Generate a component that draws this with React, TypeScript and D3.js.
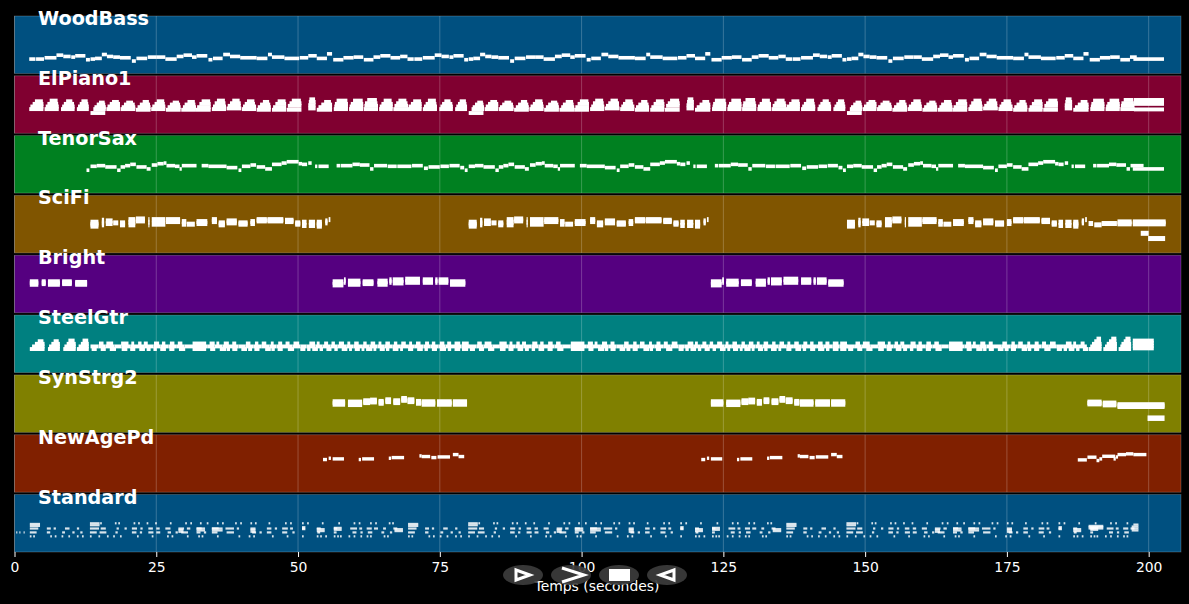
// App.tsx
import React, { useEffect, useRef } from 'react'
import * as d3 from 'd3'

// a note is [start in seconds, duration in seconds, pitch]
type Note = [number, number, number]

const TRACK_NAMES = ['WoodBass', 'ElPiano1', 'TenorSax', 'SciFi', 'Bright', 'SteelGtr', 'SynStrg2', 'NewAgePd', 'Standard']
const TRACK_COLORS = ['#005080', '#800030', '#008020', '#805500', '#550080', '#008080', '#808000', '#802000', '#005080']
const TICK_VALUES = [0, 25, 50, 75, 100, 125, 150, 175, 200]

// the piece plays the same section three times, so each phrase is read once
const PASS_OFFSETS = [0, 66.7, 133.4]

const woodBassPhrase: Note[] = [
  [2.6,1.1,42],[3.8,1.4,42],[5.3,2.1,44],[7.4,1.2,48],[8.6,1.3,46],[10,.7,45],[10.7,1.8,47],[12.6,.7,41],
  [13.4,.8,42],[14.2,1.2,43],[15.4,.9,49],[16.3,1.1,46],[17.4,1.2,45],[18.6,1.9,44],[20.7,.7,39],[21.5,1.9,43],
  [23.5,1.6,45],[25.1,1.5,45],[26.6,2,42],[28.6,1.2,46],[29.8,1.5,48],[31.3,.8,45],[32.1,1.9,47],[34.2,.7,41],
  [35,1.7,43],[36.8,1.2,49],[38,1.8,46],[39.8,2.9,44],[42.7,1.9,43],[44.7,.7,49],[45.4,2.2,45],[47.6,2.6,43],
  [50.3,1.5,44],[51.8,1.5,47],[53.3,1.8,43],[55.1,.9,50],[56.2,1.8,41],[58,1.8,44],[59.8,1.7,45],[61.6,1.7,41],
  [63.3,1.2,45],[64.5,1.8,47],[66.3,1.7,44],[68,1.3,46]
]
const woodBassOutro: Note[] = [[197.3,5.4,42]]

const pianoPhrase: Note[] = [
  [2.6,2.5,57],[2.8,2.3,61],[3.2,1.9,65],[3.6,1.4,69],[5.3,2.5,57],[5.5,2.3,61],[5.8,1.9,65],[6.2,1.4,70],
  [8.2,2.4,57],[8.4,2.2,61],[8.7,1.8,65],[9.1,1.1,69],[11,2.1,57],[11.2,1.9,61],[11.5,1.5,65],[11.8,1.1,69],
  [13.4,2.6,51],[13.9,2.2,57],[14.1,2,60],[14.5,1.5,64],[14.9,1,67],[16.2,2.4,57],[16.4,2.2,61],[16.8,1.8,65],[17.2,1.2,68],
  [18.7,2.6,57],[18.9,2.4,60],[19.3,1.9,64],[19.7,1.2,67],[21.4,2.6,56],[21.7,2.3,60],[22.1,1.8,64],[22.6,1.1,68],
  [24.1,2.5,57],[24.3,2.3,61],[24.7,1.8,65],[25.1,1.3,69],[26.7,2.6,56],[27,2.3,60],[27.4,1.8,64],[27.9,1.1,67],
  [29.4,2.6,56],[29.7,2.3,60],[30,1.9,64],[30.5,1.3,68],[32,2.6,56],[32.2,2.4,60],[32.6,2,65],[33,1.5,69],
  [34.8,2.5,57],[35,2.3,61],[35.3,1.9,66],[35.7,1.4,70],[37.4,2.6,58],[37.6,2.3,62],[38,1.9,66],[38.4,1.3,70],
  [40.1,2.5,57],[40.3,2.3,61],[40.6,1.8,65],[41,1.3,69],[42.7,2.5,56],[42.9,2.3,60],[43.3,1.8,64],[43.8,1.1,68],
  [45.4,2.5,56],[45.6,2.3,60],[46,1.9,65],[46.4,1.4,69],[48,2.6,56],[48.2,2.4,62],[48.5,2.1,66],[48.9,1.6,70],
  [51.8,1.3,58],[51.8,1.3,63],[51.9,1.2,68],[52,1,72],[53.3,2.7,56],[53.6,2.4,60],[54.1,1.9,64],[54.6,1.2,68],
  [56.3,2.5,57],[56.4,2.4,61],[56.5,2.3,65],[56.8,1.9,70],[59,2.5,57],[59.1,2.4,61],[59.3,2.2,65],[59.7,1.7,70],
  [61.6,2.5,57],[61.7,2.4,62],[61.8,2.2,66],[62.2,1.7,71],[64.3,2.4,57],[64.4,2.3,61],[64.7,2,65],[65.1,1.4,70],
  [66.8,2.6,57],[67,2.4,62],[67.3,2,66],[67.7,1.4,70]
]
const pianoOutro: Note[] = [[197.4,5.3,56.5],[197.4,5.3,65],[197.4,5.3,68.5],[197.4,5.3,71]]

const tenorPhrase: Note[] = [
  [12.7,.5,55],[13.4,1.1,61],[14.5,1.5,62],[16,2,60],[18.1,.6,55],[18.7,.8,60],[19.5,.9,62],[20.4,1,64],
  [21.5,1.8,60],[23.3,.7,57],[24.2,1,63],[25.2,1.1,65],[26.3,.5,66],[26.8,1.5,62],[28.3,.8,61],[29.1,.4,57],
  [29.5,2.6,62],[33,1.2,62],[34.2,3.2,61],[37.4,1.9,59],[39.5,.5,55],[40.1,1.5,61],[41.6,1,63],[42.7,1.5,60],
  [44.2,1.2,57],[45.4,1.7,64],[47.1,.9,66],[48,2.1,68],[50.1,.6,65],[50.7,.9,64],[51.8,.6,66],[53,.4,61],
  [53.6,1.8,61],[56.8,.6,62],[57.5,2.1,62],[59.6,1.3,64],[60.9,1.7,63],[62.7,.6,57],[63.4,2.3,62],[65.8,1.6,61],
  [67.5,2.5,61],[70.1,1.9,62],[72.2,.7,58],[73,2,60],[75.1,1.5,61],[76.7,1.8,62],[78.6,.7,59]
]
const tenorOutro: Note[] = [[197.2,5.5,57]]

const sciFiPhrase: Note[] = [
  [13.4,1.4,61],[13.4,1.4,64],[13.4,1.4,67],[15.4,.4,63],[15.4,.4,66],[15.4,.4,70],[16.1,1.2,65],[16.1,1.2,69],
  [17.4,.9,66],[18.6,.9,63],[18.6,.9,66],[20.1,1.2,63],[20.1,1.2,67],[20.1,1.2,71],[21.4,1.6,69],[21.4,1.6,72],
  [23.6,.2,63],[23.6,.2,67],[23.6,.2,71],[24.2,2.4,64],[24.2,2.4,71],[26.7,2.5,68],[26.7,2.5,71],[29.5,.8,64],[29.5,.8,68],
  [30.4,1.4,64],[32.1,1.9,65],[32.1,1.9,68],[34.8,.9,68],[34.8,.9,71],[36,1.1,63],[36,1.1,66],[37.4,1.8,66],[37.4,1.8,69],
  [39.5,1.6,64],[39.5,1.6,66],[41.6,.8,65],[41.6,.8,68],[42.7,1.8,69],[42.7,1.8,71],[44.6,2.8,69],[44.6,2.8,71],
  [47.7,1.5,68],[47.7,1.5,70],[49.5,.9,64],[49.5,.9,66],[50.7,.8,62],[50.7,.8,67],[51.9,1.1,62],[51.9,1.1,67],
  [53.3,.9,61],[53.3,.9,64],[53.3,.9,67],[54.8,.4,66],[54.8,.4,69],[55.4,.3,71]
]
const sciFiOutro: Note[] = [
  [189.4,.8,65],[190.4,1.3,63],[191.7,2.7,65],[194.5,2.5,64.5],[194.5,2.5,67.5],
  [197.2,5.8,64.5],[197.2,5.8,67.5],[198.6,1.4,50],[199.9,3,42]
]

const brightIntro: Note[] = [
  [2.7,1.5,64],[2.7,1.5,67],[4.8,.7,65],[4.8,.7,67],[5.9,2.1,64],[5.9,2.1,67],[8.4,1.7,65],[8.4,1.7,67],[10.7,2.1,64],[10.7,2.1,66]
]
const brightPhrase: Note[] = [
  [56.1,1.9,63],[56.1,1.9,67],[58.1,.3,70],[58.1,.3,67],[58.8,2.2,64],[58.8,2.2,68],[61.4,1.9,65],[61.4,1.9,67],[64,1.8,64],[64,1.8,68],
  [66.1,.4,70],[66.1,.4,67],[66.7,1.9,66],[66.7,1.9,70],[68.9,2.6,67],[68.9,2.6,71],[72,1.8,67],[72,1.8,70],[74.2,.4,67],[74.2,.4,70],
  [74.8,1.7,67],[74.8,1.7,70],[76.8,2.7,64],[76.8,2.7,67]
]

const steelIntro: Note[] = [
  [2.7,2.6,56],[3.1,2.2,60],[3.6,1.7,64],[4.1,1,68],[5.9,2.1,56],[6.1,1.9,60],[6.5,1.5,64],[6.9,.9,68],
  [8.6,2.2,56],[8.8,2,60],[9.2,1.6,64],[9.5,1.1,69],[11,2.1,56],[11.3,1.8,60],[11.7,1.4,64],[12,1,69]
]
// steel guitar rows, [start, duration]
const steelMidRow: [number, number][] = [
  [13.4,1.4],[14.8,1.2],[16,1.6],[17.6,1.3],[18.9,1.5],[20.4,1.2],[21.6,1.4],[23,1.5],[24.5,1.2],[25.7,1.5],[27.2,1.3],[28.5,1.5],
  [30,1.3],[31.3,2.8],[34.1,1.2],[35.3,1.4],[36.7,1.3],[38,1.5],[39.5,1.2],[40.7,1.5],[42.2,1.3],[43.5,1.5],[45,1.2],[46.2,1.5],
  [47.7,1.3],[49,1.4],[50.4,1.1],[51.5,1.6],[53.1,1.2],[54.3,1.4],[55.7,1.3],[57,1.5],[58.5,1.3],[59.8,1.5],[61.3,1.3],[62.6,1.4],
  [64,1.2],[65.2,1.5],[66.7,1.3],[68,1.4],[69.4,1.2],[70.6,1.5],[72.1,1.3],[73.4,1.4],[74.8,1.2],[76,1.5],[77.5,1.3],[78.8,1.4]
]
const steelTopRow: [number, number][] = [
  [14.9,.8],[16.2,1.2],[18.8,1.3],[20.6,.5],[21.8,.6],[22.8,.7],[24.6,.9],[26,.6],[27.4,.8],[28.8,.8],[31.4,2.4],[34.4,.9],[35.6,.5],
  [36.9,.9],[38.4,.7],[40.8,.8],[42.4,.6],[43.6,.8],[45.2,.5],[46.5,.7],[47.8,.7],[49.2,1],[52,1],[53.3,.5],[54.6,.7],[55.9,.6],
  [57.2,.9],[58.7,.5],[59.9,.8],[61.5,.6],[62.8,.8],[64.2,.5],[65.4,.8],[66.9,.6],[68.2,.8],[69.6,.5],[70.8,.8],
  [72.4,.7],[73.6,.6],[75,.8],[76.3,.7],[77.6,1],[78.9,1.2]
]
const steelLowRow: [number, number][] = [
  [13.6,.9],[15.2,.9],[16.8,1.1],[18.9,1],[20.4,.9],[22,1],[23.3,.7],[24.5,.6],[25.7,1],[27.3,.9],[29,1.1],[31.4,2.4],[34.5,.9],[36.2,1.1],
  [37.4,.6],[38.4,.9],[40,1],[41.2,.7],[42.3,.9],[44.2,1],[45.3,.6],[46.4,.9],[48.2,1.1],[50.4,.9],[51.6,.6],[52.5,1],[53.8,.6],[55,.9],
  [56.4,.6],[57.7,1],[59,.5],[60,.9],[61.2,.5],[62,1.1],[63.3,.5],[64.4,.9],[65.5,.6],[66.7,1],[68,.5],[69.4,.9],[71,1],[72.3,.6],[73.6,.9],
  [75,1.1],[76.4,.6],[77.6,1],[78.9,1.1]
]
const steelOutro: Note[] = [
  [189.4,2.3,56],[189.7,2,60],[190,1.7,64],[190.4,1.2,68],[190.8,.8,72],[192,2.4,56],[192.3,2.1,60],[192.6,1.8,64],[193,1.3,68],[193.4,.9,72],
  [194.7,2.2,56],[195,1.9,60],[195.2,1.7,64],[195.6,1.2,68],[195.9,.9,72],
  [197.2,3.7,57],[197.2,3.7,61],[197.2,3.7,65],[197.2,3.7,69]
]

const synthPhrase: Note[] = [
  [56.1,2.2,63.5],[56.1,2.2,66.5],[58.8,2.5,63],[58.8,2.5,66],[61.5,1.2,66],[61.5,1.2,68],[62.7,1.2,67],[62.7,1.2,69],[64.2,.9,65],[64.2,.9,67],
  [65.4,1,67.5],[65.4,1,69.5],[66.8,1.2,66],[66.8,1.2,68],[68.2,1,69.5],[68.2,1,71.5],[69.3,1.2,67.5],[69.3,1.2,69.5],[70.8,.9,65],[70.8,.9,67],
  [71.8,2.4,63.5],[71.8,2.4,66.5],[74.5,2.6,63.5],[74.5,2.6,66.5],[77.3,2.5,63.5],[77.3,2.5,66.5]
]
const synthOutro: Note[] = [
  [189.2,2.5,64],[189.2,2.5,66],[191.9,2.4,62.5],[191.9,2.4,64.5],[194.5,8.3,60],[194.5,8.3,62],[199.8,3,41.7]
]

const padPhrase: Note[] = [
  [54.4,.7,70],[55.4,.4,72],[56.1,2,71],[60.7,.4,70],[61.3,2.1,71],[66,.4,72],[66.5,2.2,73],[71.4,.4,75.6],[71.8,1.5,74.6],
  [73.5,.9,73],[74.6,2.2,74],[77.3,1,77.6],[78.3,1,74.6]
]
const padOutro: Note[] = [
  [187.5,1.6,69.5],[189.2,1.6,73.6],[190.8,.5,68.5],[191.3,.5,71],[191.8,2.3,75],[193.8,.4,71],[194.2,.4,74],[194.5,1.5,77.6],[196,1.3,78.7],[197.3,2.3,77.6]
]

// drum rows
const standardIntro: Note[] = [[.3,.2,50],[.85,.2,50],[1.6,.2,50]]
const standardHatTimes = [
  15.1,17.7,18.3,21,21.8,23.3,24.8,27.4,30.1,31,32.7,33.9,35.7,36.6,38.9,39.8,41.6,42.4,44.8,47.7,48.6,50.7,51.6,54.2,
  57.1,59.8,60.7,62.7,63.6,66,66.6
]
const standardMidRow: [number, number][] = [
  [2.7,1.5],[5.7,.7],[6.9,.4],[8.9,.8],[11,.4],[13.3,1.6],[15.2,.9],[18,.4],[19.4,.4],[20.7,.9],[22.2,.4],[23.6,.8],[25,.6],[26.6,.9],[28.9,1],[30.4,.6],
  [32.1,.9],[34.8,1.2],[37.2,1.5],[39.2,.4],[41.6,.9],[44.5,.8],[45.9,.4],[47.2,1],[48.6,.5],[50.7,.5],[53.3,.7],[56.3,.6],[59.2,1.2],[60.8,.5],[62.1,.9],[63.4,.7],[65,.5],[66.8,.7]
]
const standardSnareRow: [number, number][] = [
  [2.7,1.2],[5.7,.6],[8.4,.5],[10.2,.4],[11.6,.4],[13.3,1.2],[15,1.2],[17.8,.4],[20.7,.8],[22.1,.4],[23.6,.9],[25,.7],[27,.6],[28.4,.4],[29.4,1.2],[32.1,.7],[33.4,.4],[34.8,1],
  [37.4,1.3],[41.9,.7],[43.2,.4],[44.5,.8],[47.2,.9],[49,.4],[53.4,.5],[56.3,.5],[59.6,.7],[61,.4],[62.3,.8],[64.7,.5],[66.2,.4]
]
const standardKickTimes = [
  2.7,3.3,6.3,7.1,8.3,9.5,11,11.9,13.3,14.8,16.3,17.4,18.6,21.6,24.2,26.9,27.7,30.4,32.4,33,35.7,39.5,41.3,42.1,45.4,48,50.7,
  53.3,53.9,54.8,56.3,56.9,57.4,58.9,59.8,61,62.1,62.7,65.1,65.7
]
const standardAccents: Note[] = [
  [2.7,1.8,60],[2.7,1.8,63],[13.3,1.7,61],[13.3,1.7,64],[28.9,.9,51],[28.9,.9,54],[32.1,1.5,53],[32.1,1.5,56],[34.8,1.9,53],[34.8,1.9,56],
  [41.6,.9,51],[41.6,.9,54],[50.7,.6,58],[50.7,.6,55],[53.3,1.4,52],[53.3,1.4,55],[56.3,1.4,54],[56.3,1.4,57],[67,1.5,52],[67,1.5,55]
]
const standardOutro: Note[] = [
  [189.4,2.6,56],[189.4,2.6,58],[189.4,2.6,60],[197,1.2,53],[197,1.2,56],[197,1.2,59],[197.3,.9,62]
]

// lay a phrase over each pass and stop where the ending takes over
const playPasses = (phrase: Note[], offsets: number[], cutoff: number): Note[] =>
  offsets.flatMap(o => phrase.map(([t, d, p]): Note => [t + o, d, p])).filter(n => n[0] < cutoff)

const row = (pairs: [number, number][], pitch: number): Note[] => pairs.map(([t, d]): Note => [t, d, pitch])
const hits = (times: number[], pitch: number): Note[] => times.map((t): Note => [t, 0.3, pitch])

const steelPhrase: Note[] = [...row(steelMidRow, 60), ...row(steelTopRow, 64.5), ...row(steelLowRow, 56)]
const standardPhrase: Note[] = [
  ...hits(standardHatTimes, 64), ...row(standardMidRow, 56), ...row(standardSnareRow, 50),
  ...hits(standardKickTimes, 44), ...standardAccents
]

const TRACK_NOTES: Note[][] = [
  [...playPasses(woodBassPhrase, PASS_OFFSETS, 197), ...woodBassOutro],
  [...playPasses(pianoPhrase, PASS_OFFSETS, 197.2), ...pianoOutro],
  [...playPasses(tenorPhrase, PASS_OFFSETS, 197), ...tenorOutro],
  [...playPasses(sciFiPhrase, PASS_OFFSETS, 190), ...sciFiOutro],
  [...brightIntro, ...playPasses(brightPhrase, PASS_OFFSETS.slice(0, 2), 200)],
  [...steelIntro, ...playPasses(steelPhrase, PASS_OFFSETS, 189), ...steelOutro],
  [...playPasses(synthPhrase, PASS_OFFSETS.slice(0, 2), 200), ...synthOutro],
  [...playPasses(padPhrase, PASS_OFFSETS.slice(0, 2), 200), ...padOutro],
  [...standardIntro, ...playPasses(standardPhrase, PASS_OFFSETS, 197), ...standardOutro]
]

const WIDTH = 1189
const HEIGHT = 604
const FONT = '"DejaVu Sans", sans-serif'
const NOTE_HEIGHTS = [3.6, 3.9, 3.6, 5, 5.5, 3.9, 5.5, 3.4, 2.2]

const x = d3.scaleLinear().domain([0, 205.7]).range([14.5, 1181])
const band = d3.scaleBand<string>().domain(TRACK_NAMES).range([16, 552]).paddingInner(0.04)

const App: React.FC = () => {
  const axisRef = useRef<SVGGElement>(null)

  useEffect(() => {
    if (!axisRef.current) return
    const g = d3.select(axisRef.current)
    g.call(d3.axisBottom(x).tickValues(TICK_VALUES).tickSize(5).tickPadding(5) as any)
    g.select('.domain').remove()
    g.selectAll('.tick line').attr('stroke', '#fff').attr('stroke-width', 1)
    g.selectAll('.tick text').attr('fill', '#fff').attr('font-size', 13.9).attr('font-family', FONT)
  }, [])

  const bottom = band('Standard')! + band.bandwidth()

  return (
    <div style={{ position: 'fixed', inset: 0, background: '#000' }}>
      <svg width={WIDTH} height={HEIGHT} style={{ display: 'block' }}>
        <rect width={WIDTH} height={HEIGHT} fill="#000" />
        {TRACK_NAMES.map((name, i) => {
          const top = band(name)!
          const y = d3.scaleLinear().domain([20, 108]).range([top + band.bandwidth(), top])
          const h = NOTE_HEIGHTS[i]
          return (
            <g key={name}>
              <rect x={x(0)} y={top} width={x.range()[1] - x(0)} height={band.bandwidth()}
                fill={TRACK_COLORS[i]} stroke="rgba(255,255,255,0.25)" strokeWidth={0.8} />
              {TICK_VALUES.map(t => (
                <line key={t} x1={x(t)} x2={x(t)} y1={top} y2={top + band.bandwidth()}
                  stroke="rgba(255,255,255,0.22)" strokeWidth={1} />
              ))}
              {TRACK_NOTES[i].map(([t, d, p], k) => (
                <rect key={k} x={x(t)} y={y(p) - h / 2} width={x(t + d) - x(t)} height={h} fill="#fff"
                  fillOpacity={name === 'Standard' ? 0.85 : 1} />
              ))}
              <text x={38} y={top + 9} fill="#fff" fontFamily={FONT} fontWeight="bold" fontSize={19.2}>{name}</text>
            </g>
          )
        })}
        <g ref={axisRef} transform={`translate(0,${bottom})`} />
        <text x={597} y={591} textAnchor="middle" fill="#fff" fontFamily={FONT} fontSize={13.9}>Temps (secondes)</text>
        {/* player buttons laid over the axis */}
        {[523, 571, 619, 667].map(cx => (
          <ellipse key={cx} cx={cx} cy={575} rx={20} ry={10} fill="#3c3c3c" fillOpacity={0.92} />
        ))}
        <path d="M516,570 L530,575 L516,580 Z" fill="none" stroke="#fff" strokeWidth={3} />
        <path d="M562,568 L584,575 L562,582" fill="none" stroke="#fff" strokeWidth={3} />
        <rect x={609} y={569} width={21} height={12} fill="#fff" />
        <path d="M674,570 L660,575 L674,580 Z" fill="none" stroke="#fff" strokeWidth={3} />
      </svg>
    </div>
  )
}

export default App
